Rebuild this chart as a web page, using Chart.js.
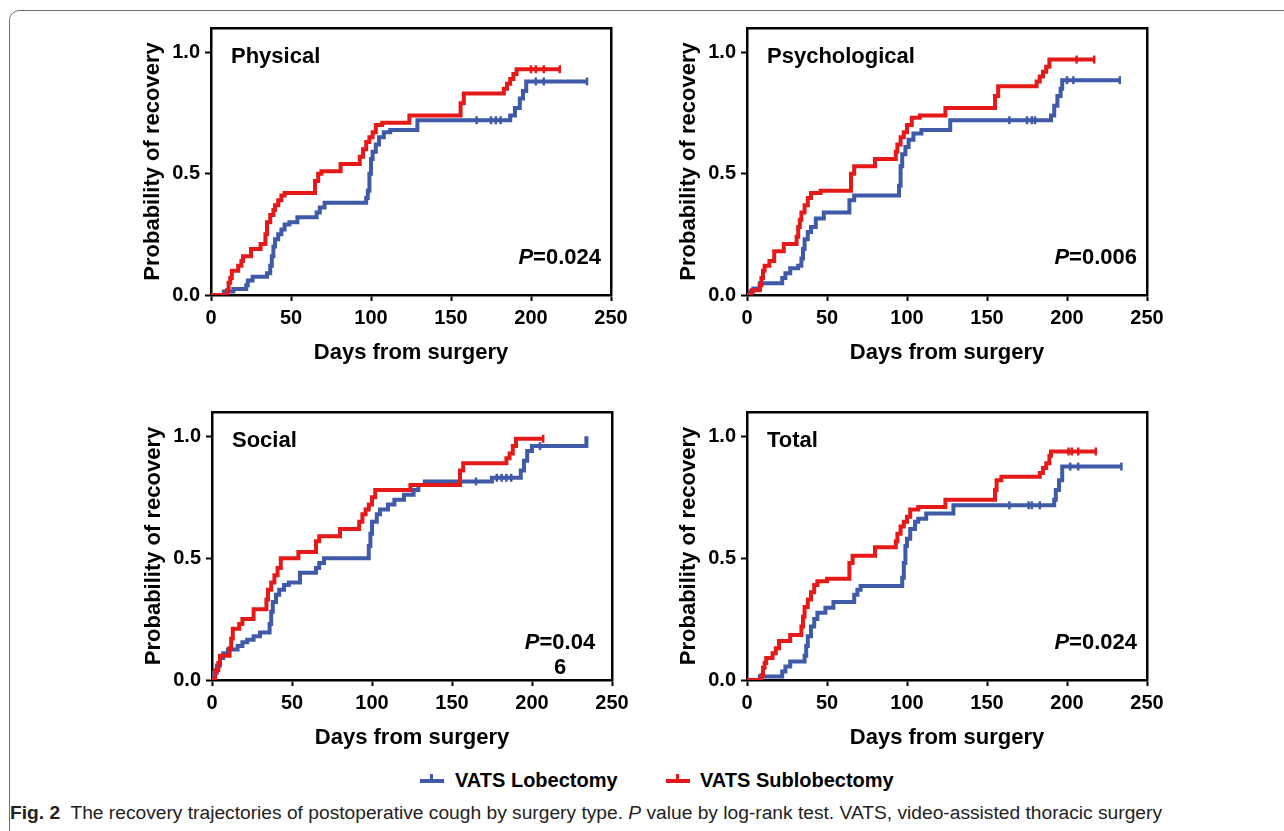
<!DOCTYPE html>
<html>
<head>
<meta charset="utf-8">
<script src="https://cdn.jsdelivr.net/npm/chart.js@4.4.0/dist/chart.umd.min.js"></script>
<style>
body{margin:0;background:#fff;width:1284px;height:831px;overflow:hidden;position:relative;font-family:"Liberation Sans",Arial,sans-serif}
.frame{position:absolute;left:9px;top:10px;width:1400px;height:900px;border:1.5px solid #6e6e6e;border-radius:10px}
canvas{position:absolute}
.mk{position:absolute;width:24px;height:4px;top:779px}
.mk i{position:absolute;left:10px;top:-5px;width:3px;height:6px;background:inherit}
.lg{position:absolute;top:768px;font-weight:bold;font-size:20px;line-height:24px;color:#000}
#cap{position:absolute;left:10px;top:801px;font-size:18px;line-height:24px;white-space:nowrap;color:#222;transform-origin:0 0;font-family:"Liberation Sans Narrow","Liberation Sans",Arial,sans-serif}
</style>
</head>
<body>
<div class="frame"></div>
<canvas id="c1" width="510" height="354" style="left:131px;top:16px"></canvas>
<canvas id="c2" width="510" height="354" style="left:667px;top:16px"></canvas>
<canvas id="c3" width="510" height="355" style="left:132px;top:400px"></canvas>
<canvas id="c4" width="510" height="355" style="left:667px;top:400px"></canvas>
<div class="mk" style="left:420px;background:#3f5aa9"><i></i></div>
<div class="lg" style="left:455px">VATS Lobectomy</div>
<div class="mk" style="left:666px;background:#e61919"><i></i></div>
<div class="lg" style="left:700px">VATS Sublobectomy</div>
<div id="cap"><b>Fig. 2</b>&nbsp; The recovery trajectories of postoperative cough by surgery type. <i>P</i> value by log-rank test. VATS, video-assisted thoracic surgery</div>
<script>
// days and recovery probability
var physLobT = [0, 8, 14, 22, 23, 26, 35, 37, 38, 39, 40, 42, 44, 46, 49, 54, 66, 68, 71, 97, 98, 99, 100, 101, 103, 105, 108, 112, 129, 187, 190, 193, 195, 197, 235];
var physLobS = [0, 0.014, 0.025, 0.04, 0.06, 0.075, 0.09, 0.12, 0.16, 0.2, 0.23, 0.25, 0.27, 0.29, 0.3, 0.32, 0.34, 0.36, 0.38, 0.4, 0.43, 0.5, 0.56, 0.59, 0.62, 0.65, 0.67, 0.68, 0.72, 0.74, 0.77, 0.81, 0.84, 0.88, 0.88];
var physLobC = [166, 175, 178, 181, 203, 208, 235];
var physSubT = [0, 10, 11, 12, 13, 17, 19, 20, 25, 31, 34, 35, 37, 39, 40, 42, 44, 46, 65, 67, 69, 81, 93, 95, 97, 99, 101, 103, 107, 124, 156, 158, 183, 185, 187, 189, 191, 218];
var physSubS = [0, 0.02, 0.05, 0.07, 0.1, 0.12, 0.14, 0.16, 0.19, 0.21, 0.25, 0.3, 0.33, 0.35, 0.37, 0.39, 0.41, 0.42, 0.47, 0.5, 0.51, 0.54, 0.57, 0.6, 0.63, 0.65, 0.67, 0.7, 0.71, 0.74, 0.79, 0.83, 0.85, 0.87, 0.89, 0.91, 0.93, 0.93];
var physSubC = [200, 203, 208, 218];

var psyLobT = [0, 2, 4, 8, 22, 24, 27, 32, 34, 35, 36, 38, 40, 43, 48, 64, 67, 95, 96, 97, 99, 101, 104, 109, 127, 190, 192, 194, 196, 197, 233];
var psyLobS = [0, 0.014, 0.027, 0.048, 0.07, 0.09, 0.11, 0.12, 0.15, 0.19, 0.23, 0.26, 0.28, 0.315, 0.34, 0.39, 0.41, 0.45, 0.53, 0.58, 0.61, 0.64, 0.665, 0.68, 0.72, 0.74, 0.78, 0.82, 0.85, 0.885, 0.885];
var psyLobC = [164, 175, 178, 180, 200, 204, 233];
var psySubT = [0, 3, 8, 9, 10, 11, 14, 17, 23, 31, 32, 33, 34, 36, 38, 40, 46, 65, 67, 80, 93, 94, 96, 98, 100, 103, 108, 124, 155, 157, 181, 183, 185, 187, 189, 217];
var psySubS = [0, 0.02, 0.04, 0.07, 0.1, 0.12, 0.14, 0.18, 0.21, 0.24, 0.28, 0.31, 0.34, 0.37, 0.4, 0.42, 0.43, 0.5, 0.53, 0.56, 0.59, 0.62, 0.65, 0.67, 0.7, 0.73, 0.74, 0.77, 0.82, 0.86, 0.88, 0.9, 0.92, 0.94, 0.97, 0.97];
var psySubC = [206, 217];

var socLobT = [0, 1, 3, 5, 7, 10, 16, 19, 22, 26, 30, 36, 37, 38, 40, 42, 45, 48, 55, 65, 67, 70, 98, 99, 100, 103, 105, 110, 114, 120, 126, 129, 133, 175, 193, 195, 197, 200, 234];
var socLobS = [0, 0.03, 0.06, 0.09, 0.11, 0.125, 0.14, 0.155, 0.165, 0.18, 0.195, 0.23, 0.28, 0.32, 0.35, 0.37, 0.39, 0.4, 0.44, 0.46, 0.48, 0.5, 0.55, 0.6, 0.65, 0.68, 0.7, 0.72, 0.74, 0.76, 0.78, 0.8, 0.815, 0.83, 0.86, 0.9, 0.94, 0.96, 1.0];
var socLobC = [165, 178, 181, 184, 187, 205];
var socSubT = [0, 2, 4, 5, 11, 12, 13, 17, 19, 26, 34, 35, 37, 39, 41, 43, 54, 65, 67, 80, 92, 94, 96, 98, 100, 102, 124, 155, 157, 184, 186, 188, 190, 207];
var socSubS = [0, 0.04, 0.07, 0.1, 0.13, 0.17, 0.21, 0.23, 0.25, 0.29, 0.33, 0.37, 0.4, 0.43, 0.46, 0.5, 0.525, 0.57, 0.59, 0.62, 0.65, 0.68, 0.7, 0.72, 0.75, 0.78, 0.8, 0.86, 0.89, 0.91, 0.93, 0.96, 0.99, 0.99];
var socSubC = [207];

var totLobT = [0, 8, 22, 24, 27, 36, 37, 38, 40, 42, 44, 49, 54, 67, 69, 71, 97, 98, 99, 100, 102, 105, 107, 112, 129, 192, 193, 195, 197, 234];
var totLobS = [0, 0.014, 0.035, 0.055, 0.076, 0.1, 0.14, 0.18, 0.22, 0.25, 0.276, 0.297, 0.32, 0.35, 0.37, 0.386, 0.42, 0.48, 0.55, 0.58, 0.62, 0.65, 0.662, 0.683, 0.717, 0.74, 0.78, 0.82, 0.876, 0.876];
var totLobC = [164, 176, 178, 183, 202, 207, 234];
var totSubT = [0, 9, 10, 11, 12, 16, 18, 20, 27, 34, 35, 36, 38, 40, 42, 44, 50, 64, 66, 80, 93, 94, 96, 98, 100, 102, 107, 124, 155, 156, 159, 183, 185, 187, 189, 190, 218];
var totSubS = [0, 0.02, 0.05, 0.07, 0.09, 0.11, 0.13, 0.16, 0.185, 0.22, 0.26, 0.3, 0.33, 0.36, 0.39, 0.405, 0.416, 0.48, 0.51, 0.545, 0.57, 0.6, 0.63, 0.65, 0.67, 0.7, 0.71, 0.74, 0.78, 0.82, 0.834, 0.85, 0.87, 0.89, 0.92, 0.938, 0.938];
var totSubC = [201, 203, 207, 218];

var xTicks = [0, 50, 100, 150, 200, 250];
var yTicks = [0, 0.5, 1.0];

var blue = '#3f5aa9';
var red = '#e61919';
var FONT = '"Liberation Sans", Arial, sans-serif';

function pts(T, S) {
  return T.map(function (t, i) { return {x: t, y: S[i]}; });
}
// censor marks sit on the curve value at that day
function cens(T, S, C) {
  return C.map(function (c) {
    var v = 0;
    for (var i = 0; i < T.length; i++) if (T[i] <= c) v = S[i];
    return {x: c, y: v};
  });
}

var notes = {
  id: 'notes',
  afterDraw: function (chart) {
    var o = chart.options.plugins.notes;
    var a = chart.chartArea, ctx = chart.ctx;
    ctx.save();
    ctx.fillStyle = '#000';
    ctx.textBaseline = 'middle';
    ctx.font = 'bold 22px ' + FONT;
    ctx.textAlign = 'left';
    ctx.fillText(o.title, a.left + 20, a.top + 29);
    // P value with italic P
    var rest = o.p[0];
    ctx.font = 'bold 22px ' + FONT;
    var wr = ctx.measureText(rest).width;
    ctx.font = 'italic bold 22px ' + FONT;
    var wp = ctx.measureText('P').width;
    var x0, y0 = a.bottom - 37;
    if (o.p.length > 1) x0 = a.right - 52 - (wp + wr) / 2;
    else x0 = a.right - 10 - wp - wr;
    ctx.fillText('P', x0, y0);
    ctx.font = 'bold 22px ' + FONT;
    ctx.fillText(rest, x0 + wp, y0);
    if (o.p.length > 1) {
      ctx.textAlign = 'center';
      ctx.fillText(o.p[1], a.right - 52, y0 + 25);
    }
    ctx.restore();
  }
};

function config(title, p, lobT, lobS, lobC, subT, subS, subC) {
  var line = function (col, data) {
    return {type: 'line', data: data, borderColor: col, borderWidth: 4, stepped: 'before',
      pointRadius: 0, fill: false, tension: 0};
  };
  var tick = function (col, data) {
    return {type: 'scatter', data: data, borderColor: col, backgroundColor: col, pointStyle: 'line',
      rotation: 90, pointRadius: 4, borderWidth: 2.5, showLine: false};
  };
  return {
    type: 'line',
    data: {
      datasets: [
        tick(red, cens(subT, subS, subC)),
        line(red, pts(subT, subS)),
        tick(blue, cens(lobT, lobS, lobC)),
        line(blue, pts(lobT, lobS))
      ]
    },
    options: {
      responsive: false,
      animation: false,
      layout: {padding: {top: 12, right: 30, left: 0, bottom: 0}},
      plugins: {legend: {display: false}, tooltip: {enabled: false}, notes: {title: title, p: p}},
      scales: {
        x: {
          type: 'linear', min: 0, max: 250,
          afterBuildTicks: function (s) { s.ticks = xTicks.map(function (v) { return {value: v}; }); },
          afterFit: function (s) { s.height = 75; },
          ticks: {color: '#000', font: {family: FONT, size: 20, weight: 'bold'}, padding: 5, maxRotation: 0},
          grid: {drawOnChartArea: false, tickLength: 6, tickColor: '#000', tickWidth: 2},
          border: {color: '#000', width: 2.5},
          title: {display: true, text: 'Days from surgery', color: '#000',
            font: {family: FONT, size: 22, weight: 'bold'}, padding: {top: 0, bottom: 4}}
        },
        y: {
          min: 0, max: 1.1,
          afterBuildTicks: function (s) { s.ticks = yTicks.map(function (v) { return {value: v}; }); },
          afterFit: function (s) { s.width = 80; },
          ticks: {color: '#000', font: {family: FONT, size: 20, weight: 'bold'}, padding: 5,
            callback: function (v) { return Number(v).toFixed(1); }},
          grid: {drawOnChartArea: false, tickLength: 6, tickColor: '#000', tickWidth: 2},
          border: {color: '#000', width: 2.5},
          title: {display: true, text: 'Probability of recovery', color: '#000',
            font: {family: FONT, size: 22, weight: 'bold'}, padding: {top: 9, bottom: 0}}
        },
        x2: {
          type: 'linear', position: 'top', min: 0, max: 250,
          ticks: {display: false}, grid: {drawOnChartArea: false, drawTicks: false},
          border: {color: '#000', width: 2.5},
          afterFit: function (s) { s.height = 0; }
        },
        y2: {
          position: 'right', min: 0, max: 1.1,
          ticks: {display: false}, grid: {drawOnChartArea: false, drawTicks: false},
          border: {color: '#000', width: 2.5},
          afterFit: function (s) { s.width = 0; }
        }
      }
    },
    plugins: [notes]
  };
}

function panel(id, title, p, lobT, lobS, lobC, subT, subS, subC) {
  var cv = document.getElementById(id);
  var chart = new Chart(cv, config(title, p, lobT, lobS, lobC, subT, subS, subC));
  // the layout pushes the plot top down a little: grow the canvas upward and redraw
  var extra = Math.round(chart.chartArea.top - 12);
  if (extra > 0) {
    var h = cv.height;
    chart.destroy();
    cv.width = 510;
    cv.height = h + extra;
    cv.style.width = '510px';
    cv.style.height = (h + extra) + 'px';
    cv.style.top = (parseInt(cv.style.top) - extra) + 'px';
    new Chart(cv, config(title, p, lobT, lobS, lobC, subT, subS, subC));
  }
}

panel('c1', 'Physical', ['=0.024'], physLobT, physLobS, physLobC, physSubT, physSubS, physSubC);
panel('c2', 'Psychological', ['=0.006'], psyLobT, psyLobS, psyLobC, psySubT, psySubS, psySubC);
panel('c3', 'Social', ['=0.04', '6'], socLobT, socLobS, socLobC, socSubT, socSubS, socSubC);
panel('c4', 'Total', ['=0.024'], totLobT, totLobS, totLobC, totSubT, totSubS, totSubC);

// squeeze caption to the printed width
var cap = document.getElementById('cap');
var w = cap.getBoundingClientRect().width;
cap.style.transform = 'scaleX(' + (1152 / w) + ')';
</script>
</body>
</html>
